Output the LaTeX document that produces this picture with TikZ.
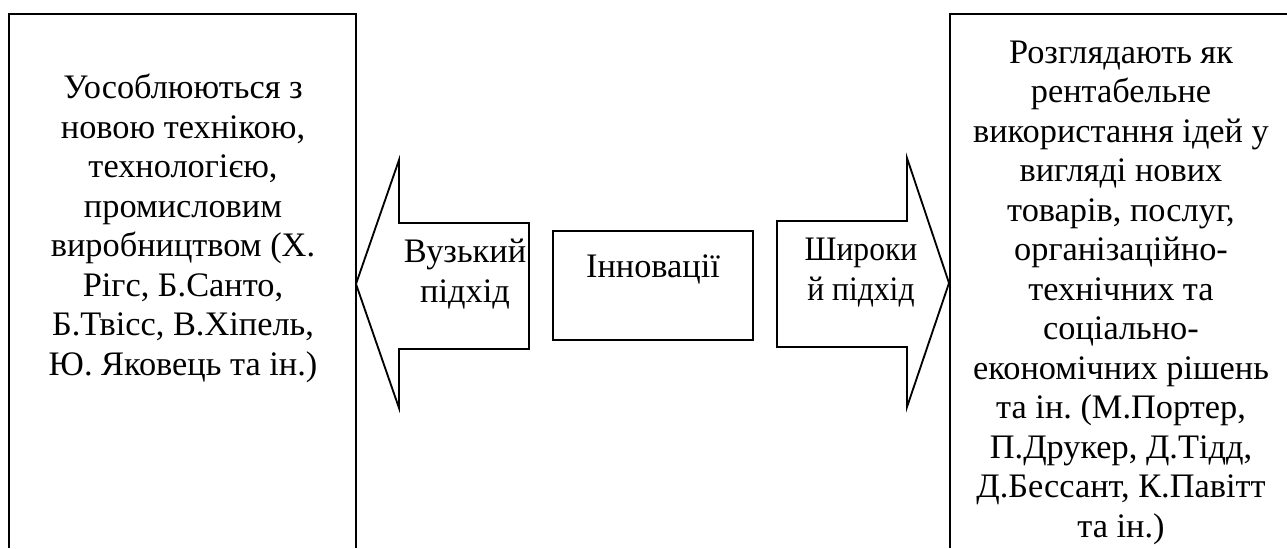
\documentclass[tikz,border=0pt]{standalone}
\usepackage{fontspec}
\setmainfont{Liberation Serif}
\frenchspacing

\begin{document}
\begin{tikzpicture}[
	x=0.4076pt,
	y=0.4076pt,
	outline/.style={
		draw=black,
		line width=0.75pt
	},
	boxtext/.style={
		font=\fontsize{14}{16.1}\selectfont,
		align=center,
		anchor=base, % base of the last line
		inner sep=0pt
	}
]

\useasboundingbox (0,0) rectangle (1287,548);

\def\boxtop{534} % the outer boxes run off the page
\def\tight#1{\scalebox{0.92}[1]{#1}}



% outer boxes
\draw[outline] (9,0) -- (9,\boxtop) -- (356,\boxtop) -- (356,0);
\draw[outline] (950,0) -- (950,\boxtop) -- (1287,\boxtop);

% centre box
\draw[outline] (553,208) rectangle (753,317);

% block arrows
\draw[outline] (356,264) -- (399,388) -- (399,325) -- (529,325)
	-- (529,199) -- (399,199) -- (399,140) -- cycle;
\draw[outline] (949,265) -- (907,390) -- (907,327) -- (777,327)
	-- (777,201) -- (907,201) -- (907,141) -- cycle;



\node[boxtext] (narrowview) at (183,173) {
	Уособлюються з\\
	новою технікою,\\
	технологією,\\
	промисловим\\
	виробництвом (Х.\\
	Рігс, Б.Санто,\\
	Б.Твісс, В.Хіпель,\\
	Ю. Яковець та ін.)
};

\node[boxtext] (broadview) at (1121,11) {
	Розглядають як\\
	рентабельне\\
	використання ідей у\\
	вигляді нових\\
	товарів, послуг,\\
	організаційно-\\
	технічних та\\
	соціально-\\
	економічних рішень\\
	та ін. (М.Портер,\\
	П.Друкер, Д.Тідд,\\
	Д.Бессант, К.Павітт\\
	та ін.)
};

\node[boxtext] (innovations) at (653,271) {Інновації};

\node[boxtext] (narrowlabel) at (465,246) {Вузький\\підхід};
\node[boxtext] (broadlabel) at (861,248) {\tight{Широки}\\\tight{й підхід}};



\end{tikzpicture}
\end{document}
